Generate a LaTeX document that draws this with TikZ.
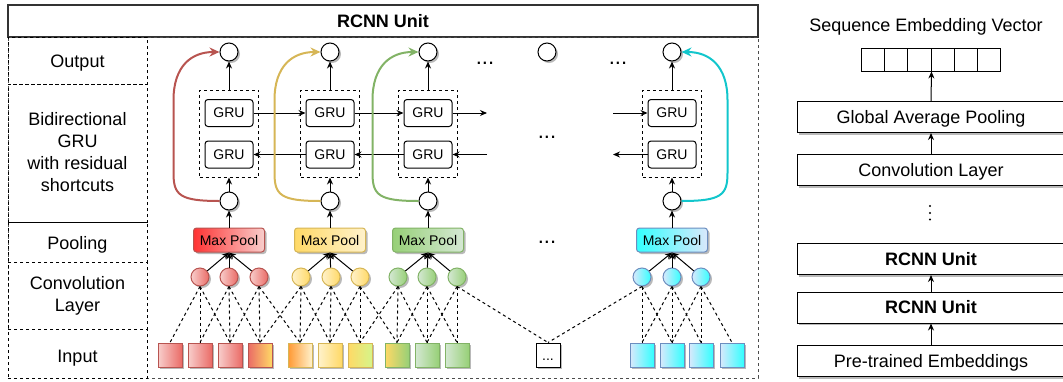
\documentclass[tikz,border=0pt]{standalone}
\usepackage{fontspec}
\setmainfont{Liberation Sans}
\usetikzlibrary{calc,shadows,arrows.meta}
\def\lineThickness{1pt}
\def\dotSize{18}
\def\fBig{\fontsize{18}{22}\selectfont}
\def\fSmall{\fontsize{14}{16}\selectfont}
\def\fDots{\fontsize{22}{24}\selectfont}
\definecolor{redL}{HTML}{F8CECC}\definecolor{redD}{HTML}{EA6B66}\definecolor{redB}{HTML}{B85450}\definecolor{redP}{HTML}{FF3333}
\definecolor{yelL}{HTML}{FFF2CC}\definecolor{yelD}{HTML}{FFD966}\definecolor{yelB}{HTML}{D6B656}\definecolor{orgP}{HTML}{FF9933}\definecolor{limL}{HTML}{D5F58A}
\definecolor{grnL}{HTML}{D5E8D4}\definecolor{grnD}{HTML}{97D077}\definecolor{grnB}{HTML}{82B366}
\definecolor{cyaL}{HTML}{DAE8FC}\definecolor{cyaD}{HTML}{33FFFF}\definecolor{cyaB}{HTML}{6C8EBF}\definecolor{cyaR}{HTML}{12C6CC}
\tikzset{arr/.style={draw=black,line width=\lineThickness,-{Stealth[length=7pt,width=6pt]}}}
\tikzset{dsh/.style={draw=black,line width=\lineThickness,dash pattern=on 3pt off 3pt}}
\tikzset{res/.style={line width=2pt,-{Stealth[length=10pt,width=9pt]}}}
\tikzset{shd/.style={drop shadow={shadow xshift=2pt,shadow yshift=-2pt,fill=black!55}}}
\tikzset{rowbox/.style={dsh,minimum width=139,inner sep=0}}
\tikzset{lbl/.style={align=center,inner sep=0,font=\fBig}}
\tikzset{gru/.style={draw=black,line width=\lineThickness,rounded corners=3pt,minimum width=48,minimum height=27,inner sep=0,font=\fSmall}}
\tikzset{grubox/.style={dsh,minimum width=59,minimum height=87,inner sep=0}}
\tikzset{wdot/.style={draw=black,line width=\lineThickness,fill=white,circle,minimum size=\dotSize,inner sep=0,shd}}
\tikzset{bdot/.style={fill=black,circle,minimum size=2.4,inner sep=0}}
\tikzset{cdot/.style={line width=\lineThickness,circle,minimum size=\dotSize,inner sep=0,shd}}
\tikzset{insq/.style={line width=\lineThickness,minimum size=24,inner sep=0,shd}}
\tikzset{pool/.style={line width=\lineThickness,rounded corners=3pt,minimum width=71,minimum height=24,inner sep=0,font=\fSmall,shd}}
\tikzset{rbox/.style={draw=black,line width=\lineThickness,fill=white,minimum width=268,minimum height=31,inner sep=0,text depth=1pt,font=\fBig,shd}}
\newcommand{\shortcut}[5]{\draw[res,#3] (#1.#4) .. controls ($(#1.#4)+(#5*40,0)$) and ($(#1.#4)+(#5*46,-6)$) .. ($(#1.#4)+(#5*46,-28)$) -- ($(#2.#4)+(#5*46,48)$) .. controls ($(#2.#4)+(#5*46,14)$) and ($(#2.#4)+(#5*28,0)$) .. (#2.#4);}

\begin{document}
\begin{tikzpicture}[x=1pt,y=-1pt]
\useasboundingbox (0,0) rectangle (1063,381);
% RCNN unit panel
\node[draw=black!80,line width=1.2pt,minimum width=750,minimum height=32,inner sep=0,font=\fBig\bfseries] (title) at (383,21) {RCNN Unit};
\node[dsh,draw=black!70,minimum width=750,minimum height=341,inner sep=0] (frame) at (383,207.5) {};
\node[rowbox,minimum height=47] (rOut) at (77.5,60.5) {};
\node[rowbox,minimum height=138] (rGru) at (77.5,153) {};
\node[rowbox,minimum height=40] (rPool) at (77.5,242) {};
\node[rowbox,minimum height=67] (rConv) at (77.5,295.5) {};
\node[rowbox,minimum height=49] (rIn) at (77.5,353.5) {};
\node[lbl] (tOut) at (77.5,63.5) {Output};
\node[lbl] (tGru) at (77.5,152.5) {Bidirectional\\GRU\\with residual\\shortcuts};
\node[lbl] (tPool) at (77.5,244.5) {Pooling};
\node[lbl] (tConv) at (77.5,296) {Convolution\\Layer};
\node[lbl] (tIn) at (77.5,358.5) {Input};
% inputs
\foreach \i/\x/\l/\r/\b in {0/170/redL/redD/redB,1/200/redL/redD/redB,2/230/redL/redD/redB,3/260/redD/yelD/redB,4/300/orgP/yelL/yelB,5/330/yelL/yelD/yelB,6/360/yelD/limL/yelB,7/397/yelD/grnD/grnB,8/427/grnL/grnD/grnB,9/457/grnL/grnD/grnB,11/642/cyaL/cyaD/cyaB,12/672/cyaL/cyaD/cyaB,13/701/cyaL/cyaD/cyaB,14/732/cyaL/cyaD/cyaB}{\node[insq,draw=\b,left color=\l,right color=\r] (in\i) at (\x,355) {};};
\node[insq,draw=black,fill=white,font=\fSmall,text height=10pt,text depth=0pt] (in10) at (548,355) {...};
% convolution
\foreach \i/\x/\l/\r/\b in {1/200/redL/redD/redB,2/229/redL/redD/redB,3/259/redL/redD/redB,4/301/yelL/yelD/yelB,5/331/yelL/yelD/yelB,6/360/yelL/yelD/yelB,7/398/grnL/grnD/grnB,8/427/grnL/grnD/grnB,9/457/grnL/grnD/grnB,11/642/cyaL/cyaD/cyaB,12/672/cyaL/cyaD/cyaB,13/701/cyaL/cyaD/cyaB}{\node[cdot,draw=\b,left color=\l,right color=\r] (cv\i) at (\x,277) {};
\pgfmathtruncatemacro\pv{\i-1}\pgfmathtruncatemacro\nx{\i+1}
\foreach \j in {\pv,\i,\nx}{\draw[dsh] (cv\i.south) -- (in\j.north);};};
% pooling and bidirectional GRU
\foreach \k/\x/\p/\l/\b in {1/229/redP/redL/redB,2/330/yelD/yelL/yelB,3/428/grnD/grnL/grnB,4/672/cyaD/cyaL/cyaB}{\node[pool,draw=\b,left color=\p,right color=\l] (mp\k) at (\x,240) {Max Pool};
\node[wdot] (h\k) at (\x,201) {};\node[grubox] (gb\k) at (\x,133.5) {};
\node[gru] (gf\k) at (\x,113) {GRU};\node[gru] (gr\k) at (\x,154.5) {GRU};
\node[wdot] (o\k) at (\x,52) {};
\draw[arr] (mp\k) -- (h\k);\draw[arr] (h\k) -- (gb\k);\draw[arr] (gb\k) -- (o\k);};
\foreach \i/\k in {1/1,2/1,3/1,4/2,5/2,6/2,7/3,8/3,9/3,11/4,12/4,13/4}{\draw[arr] (cv\i) -- (mp\k.south);};
\node[wdot] (o0) at (547,52) {};
\node[font=\fDots] (dotsA) at (485,63) {...};\node[font=\fDots] (dotsB) at (618,63) {...};
\node[font=\fDots] (dotsC) at (547,137) {...};\node[font=\fDots] (dotsD) at (547,242) {...};
\coordinate (fOut) at (487,113);\coordinate (bIn) at (487,154.5);\coordinate (fIn) at (613,113);\coordinate (bOut) at (613,154.5);
\draw[arr] (gf1) -- (gf2);\draw[arr] (gf2) -- (gf3);\draw[arr] (gf3) -- (fOut);\draw[arr] (fIn) -- (gf4);
\draw[arr] (gr2) -- (gr1);\draw[arr] (gr3) -- (gr2);\draw[arr] (bIn) -- (gr3);\draw[arr] (gr4) -- (bOut);
\shortcut{h1}{o1}{redB}{west}{-1}\shortcut{h2}{o2}{yelB}{west}{-1}\shortcut{h3}{o3}{grnB}{west}{-1}\shortcut{h4}{o4}{cyaR}{east}{1}
% model stack
\node[rbox] (pre) at (931,361) {Pre-trained Embeddings};
\node[rbox,font=\fBig\bfseries] (r1) at (931,307.5) {RCNN Unit};
\node[rbox,font=\fBig\bfseries] (r2) at (931,259) {RCNN Unit};
\foreach \a/\y in {1/206,2/213,3/219.5}{\node[bdot] (vd\a) at (930,\y) {};};
\node[rbox] (conv) at (931,170) {Convolution Layer};
\node[rbox] (gap) at (931,117) {Global Average Pooling};
\foreach \c in {1,...,6}{\node[draw=black,line width=\lineThickness,minimum width=23.33,minimum height=23,inner sep=0] (v\c) at ({872.67+(\c-1)*23.33},59.5) {};};
\node[font=\fBig] (vecLbl) at (926,27) {Sequence Embedding Vector};
\draw[arr] (pre) -- (r1);\draw[arr] (r1) -- (r2);\draw[arr] (conv) -- (gap);\draw[arr] (gap.north) -- (v3.south east);
\end{tikzpicture}
\end{document}
